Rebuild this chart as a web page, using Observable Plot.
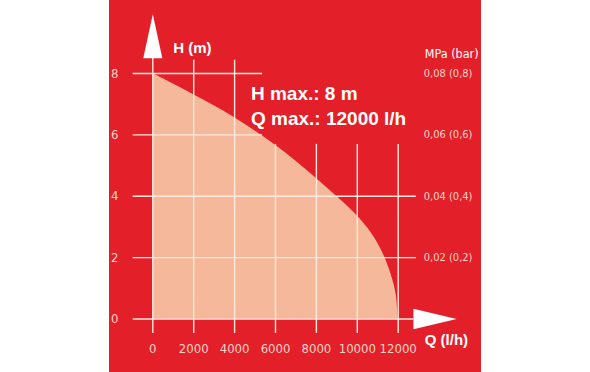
<!DOCTYPE html>
<html>
<head>
<meta charset="utf-8">
<script src="https://cdn.jsdelivr.net/npm/d3@7"></script>
<script src="https://cdn.jsdelivr.net/npm/@observablehq/plot@0.6"></script>
<style>
  html, body { margin: 0; padding: 0; background: #ffffff; }
  #chart { margin-left: 109px; width: 372px; height: 372px; }
  #chart svg { display: block; }
</style>
</head>
<body>
<div id="chart"></div>
<script>
// Pump curve: flow Q (l/h) vs head H (m)
const flowQ = [0, 1000, 2000, 3000, 4000, 5000, 6000, 7000, 8000, 9000, 10000, 10500, 11000, 11400, 11700, 11900, 12000];
const headH = [8.0, 7.66, 7.31, 6.95, 6.56, 6.13, 5.66, 5.14, 4.58, 3.99, 3.36, 2.97, 2.47, 1.92, 1.35, 0.8, 0];

const xTicks = [0, 2000, 4000, 6000, 8000, 10000, 12000];
const yTicks = [0, 2, 4, 6, 8];
const pressureTicks = [2, 4, 6, 8];
const pressureLabels = ["0,02 (0,2)", "0,04 (0,4)", "0,06 (0,6)", "0,08 (0,8)"];

const infoLines = ["H max.: 8 m", "Q max.: 12000 l/h"];
const hLabel = "H (m)";
const qLabel = "Q (l/h)";
const pLabel = "MPa (bar)";

const curve = flowQ.map((q, i) => ({q, h: headH[i]}));

const RED = "#e3202a";
const PEACH = "#f6b89a";
const LINE = "#fce9dd";
const TICK = "#f8d3c6";
const NARROW = "'Liberation Sans Narrow', 'DejaVu Sans Condensed', 'Liberation Sans', sans-serif";
const BOLD = "'Liberation Sans', Arial, sans-serif";

const pressureFormat = d => pressureLabels[pressureTicks.indexOf(d)];

const chart = Plot.plot({
  width: 372,
  height: 372,
  marginLeft: 43.3,
  marginRight: 83.3,
  marginTop: 73,
  marginBottom: 53.5,
  style: {background: RED, overflow: "visible"},
  x: {domain: [0, 12000], ticks: xTicks},
  y: {domain: [0, 8], ticks: yTicks},
  marks: [
    Plot.areaY(curve, {x: "q", y: "h", fill: PEACH, curve: "catmull-rom"}),
    // vertical grid lines
    Plot.ruleX(xTicks.filter(d => d === 0), {y1: -0.47, y2: 8.5, stroke: LINE, strokeWidth: 1.4}),
    Plot.ruleX(xTicks.filter(d => d > 0 && d <= 4000), {y1: -0.47, y2: 8.43, stroke: LINE, strokeWidth: 1.4}),
    Plot.ruleX(xTicks.filter(d => d > 4000), {y1: -0.47, y2: 5.69, stroke: LINE, strokeWidth: 1.4}),
    // horizontal grid lines
    Plot.ruleY(yTicks.filter(d => d >= 6), {x1: -960, x2: 5370, stroke: LINE, strokeWidth: 1.4}),
    Plot.ruleY(yTicks.filter(d => d > 0 && d < 6), {x1: -960, x2: 12890, stroke: LINE, strokeWidth: 1.4}),
    Plot.ruleY(yTicks.filter(d => d === 0), {x1: -960, x2: 12760, stroke: LINE, strokeWidth: 1.4}),
    // arrow heads
    Plot.line([[-466, 8.5], [0, 9.93], [466, 8.5]], {x: "0", y: "1", fill: "#ffffff", stroke: "none"}),
    Plot.line([[12746, 0.33], [14857, 0], [12746, -0.33]], {x: "0", y: "1", fill: "#ffffff", stroke: "none"}),
    // axes
    Plot.axisX({anchor: "bottom", ticks: xTicks, tickSize: 0, tickPadding: 25, fontSize: 13, fill: TICK, fontFamily: NARROW, label: null, tickFormat: d => String(d)}),
    Plot.axisY({anchor: "left", ticks: yTicks, tickSize: 0, tickPadding: 38, fontSize: 13, fill: TICK, fontFamily: NARROW, textAnchor: "middle", label: null}),
    Plot.axisY({anchor: "right", ticks: pressureTicks, tickSize: 0, tickPadding: 25.6, fontSize: 11, fill: TICK, fontFamily: NARROW, tickFormat: pressureFormat, label: null}),
    // axis titles
    Plot.text([hLabel], {x: 1000, y: 8.83, text: d => d, textAnchor: "start", fill: "#ffffff", fontWeight: "bold", fontSize: 15, fontFamily: BOLD}),
    Plot.text([qLabel], {x: 13300, y: -0.70, text: d => d, textAnchor: "start", fill: "#ffffff", fontWeight: "bold", fontSize: 15, fontFamily: BOLD}),
    Plot.text([pLabel], {x: 13300, y: 8.65, text: d => d, textAnchor: "start", fill: "#ffffff", fontSize: 12.5, fontFamily: NARROW}),
    // info text
    Plot.text([infoLines[0]], {x: 4800, y: 7.35, text: d => d, textAnchor: "start", fill: "#ffffff", fontWeight: "bold", fontSize: 19, fontFamily: BOLD}),
    Plot.text([infoLines[1]], {x: 4800, y: 6.53, text: d => d, textAnchor: "start", fill: "#ffffff", fontWeight: "bold", fontSize: 19, fontFamily: BOLD})
  ]
});
document.getElementById("chart").appendChild(chart);
</script>
</body>
</html>
